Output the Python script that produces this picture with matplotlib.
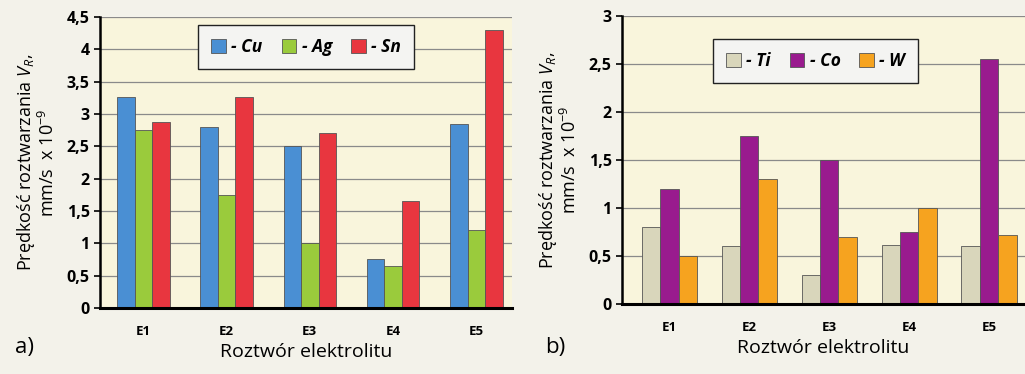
import numpy as np
import matplotlib.pyplot as plt

# === Data ===
categories = ["E1", "E2", "E3", "E4", "E5"]

cu = [3.27, 2.80, 2.50, 0.75, 2.85]
ag = [2.75, 1.75, 1.00, 0.65, 1.20]
sn = [2.87, 3.27, 2.70, 1.65, 4.30]

ti = [0.80, 0.60, 0.30, 0.62, 0.60]
co = [1.20, 1.75, 1.50, 0.75, 2.55]
w = [0.50, 1.30, 0.70, 1.00, 0.72]

left_labels = ["- Cu", "- Ag", "- Sn"]
right_labels = ["- Ti", "- Co", "- W"]
left_colors = ["#4a8fd3", "#9acb3c", "#e8363f"]
right_colors = ["#d9d6bb", "#991b8e", "#f6a31f"]

plt.rcParams['font.family'] = ['Open Sans', 'DejaVu Sans']
plt.rcParams['mathtext.fontset'] = 'custom'
plt.rcParams['mathtext.rm'] = 'Open Sans'
plt.rcParams['mathtext.it'] = 'Open Sans:italic'

fig = plt.figure(figsize=(10.25, 3.74), dpi=100, facecolor="#f3f2ea")
ax1 = fig.add_axes([0.0976, 0.1765, 0.402, 0.778])
ax2 = fig.add_axes([0.607, 0.187, 0.393, 0.770])


def draw_panel(ax, series, labels, colors, width, ymax, xlim, legend_pos):
    x = np.arange(len(categories))
    handles = []
    for i, (vals, col) in enumerate(zip(series, colors)):
        h = ax.bar(x + (i - 1) * width, vals, width, color=col,
                   edgecolor="#555555", linewidth=0.6, zorder=3)
        handles.append(h)
    ax.set_facecolor("#f9f5dc")
    ax.set_xlim(*xlim)
    ax.set_ylim(0, ymax)
    yt = np.arange(0, ymax + 0.01, 0.5)
    ax.set_yticks(yt)
    ax.set_yticklabels([f"{v:g}".replace(".", ",") for v in yt],
                       fontsize=11.5, fontweight="bold")
    ax.set_xticks(x)
    ax.set_xticklabels(categories, fontsize=9.5, fontweight="bold")
    ax.tick_params(axis="x", length=0, pad=12)
    ax.tick_params(axis="y", length=4, width=1.2, direction="out")
    ax.grid(axis="y", color="#8a8a8a", linewidth=0.9, zorder=0)
    for s in ["top", "right"]:
        ax.spines[s].set_visible(False)
    ax.spines["left"].set_linewidth(1.8)
    ax.spines["bottom"].set_linewidth(2.2)
    ax.spines["bottom"].set_zorder(4)
    ax.set_ylabel("Prędkość roztwarzania $V_{R}$,\nmm/s  x 10$^{-9}$",
                  fontsize=13, labelpad=6, linespacing=1.1)
    ax.set_xlabel("Roztwór elektrolitu", fontsize=14, labelpad=4)
    leg = ax.legend(handles, labels, loc="center", bbox_to_anchor=legend_pos,
                    ncol=3, fancybox=False, framealpha=1, facecolor="#f4f4f2",
                    edgecolor="#222222", handlelength=0.85, handleheight=0.85,
                    handletextpad=0.3, columnspacing=1.1, borderpad=0.75,
                    prop={"style": "italic", "weight": "bold", "size": 12.5})
    leg.get_frame().set_linewidth(1.0)
    leg.set_zorder(5)


draw_panel(ax1, [cu, ag, sn], left_labels, left_colors, 0.21, 4.5,
           (-0.52, 4.43), (0.50, 0.897))
draw_panel(ax2, [ti, co, w], right_labels, right_colors, 0.23, 3.0,
           (-0.59, 4.45), (0.48, 0.844))

fig.text(0.015, 0.055, "a)", fontsize=16)
fig.text(0.532, 0.055, "b)", fontsize=16)

fig.savefig("out.png", dpi=100, facecolor=fig.get_facecolor())
